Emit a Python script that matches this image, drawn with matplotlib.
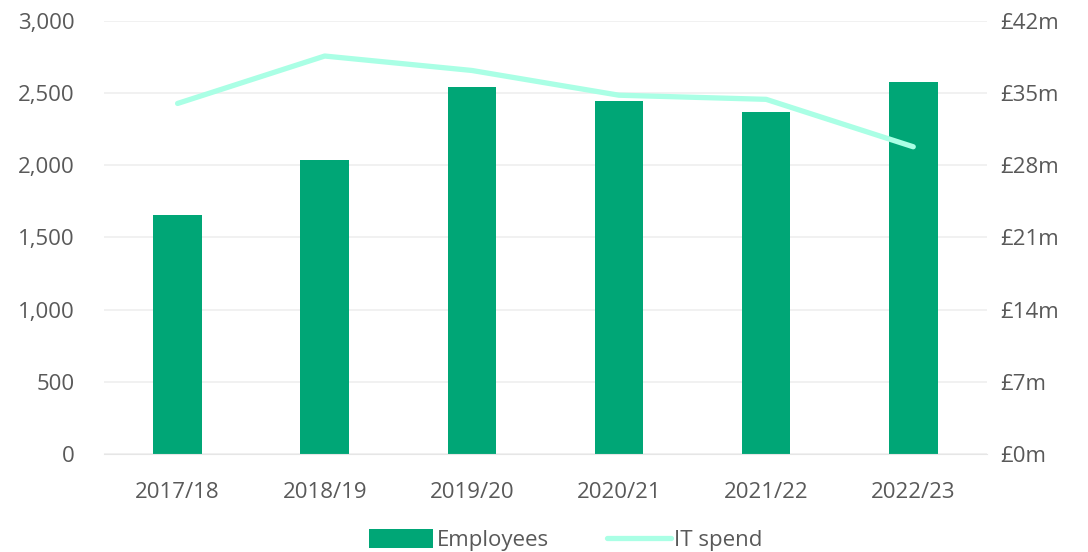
import matplotlib
matplotlib.use("Agg")
import matplotlib.pyplot as plt
import numpy as np

years = ["2017/18", "2018/19", "2019/20", "2020/21", "2021/22", "2022/23"]
employees = [1655, 2040, 2545, 2445, 2370, 2578]
it_spend = [34.0, 38.6, 37.2, 34.8, 34.4, 29.8]

bar_color = "#00A676"
line_color = "#AAFFE5"
text_color = "#595959"

plt.rcParams["font.family"] = ["Open Sans", "DejaVu Sans"]
plt.rcParams["font.size"] = 16

fig = plt.figure(figsize=(10.88, 5.52), dpi=100)
ax = fig.add_axes([0.0956, 0.1775, 0.8114, 0.7845])
ax2 = ax.twinx()

x = np.arange(len(years))
ax.bar(x, employees, width=0.33, color=bar_color, label="Employees", zorder=2)
ax2.plot(x, it_spend, color=line_color, linewidth=3.8, solid_capstyle="round",
         label="IT spend", zorder=3)

ax.set_xlim(-0.5, len(years) - 0.5)
ax.set_ylim(0, 3000)
ax.set_yticks(range(0, 3001, 500))
ax.set_yticklabels([f"{v:,}" for v in range(0, 3001, 500)])
ax2.set_ylim(0, 42)
ax2.set_yticks(range(0, 43, 7))
ax2.set_yticklabels([f"£{v}m" for v in range(0, 43, 7)])
ax.set_xticks(x)
ax.set_xticklabels(years)

ax.grid(axis="y", color="#EFEFEF", linewidth=1.2, zorder=0)
ax.set_axisbelow(True)
for a in (ax, ax2):
    for s in a.spines.values():
        s.set_visible(False)
    a.tick_params(length=0, colors=text_color, labelsize=16)
ax.spines["bottom"].set_visible(True)
ax.spines["bottom"].set_color("#E6E6E6")
ax.tick_params(axis="y", pad=21)
ax.tick_params(axis="x", pad=20)
ax2.tick_params(axis="y", pad=10)

# keep the line drawn on top of the bars
ax.set_zorder(1)
ax.patch.set_visible(False)
ax2.set_zorder(2)

h1, l1 = ax.get_legend_handles_labels()
h2, l2 = ax2.get_legend_handles_labels()
fig.legend(h1 + h2, l1 + l2, loc="lower center", ncol=2, frameon=False,
           bbox_to_anchor=(0.52, -0.035), fontsize=16, labelcolor=text_color,
           handlelength=2.9, handleheight=0.9, handletextpad=0.15, columnspacing=2.6)

fig.savefig("out.png", dpi=100)
